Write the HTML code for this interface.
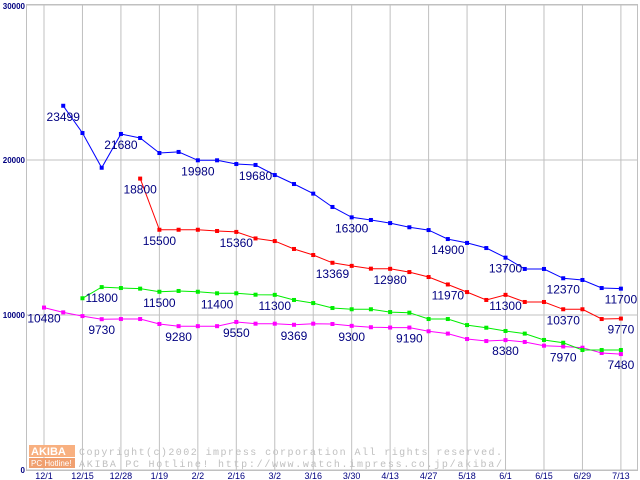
<!DOCTYPE html>
<html><head><meta charset="utf-8"><style>
html,body{margin:0;padding:0;background:#fff;}
svg{display:block;font-family:"Liberation Sans",sans-serif;}
</style></head><body>
<svg id="chart" width="640" height="480" viewBox="0 0 640 480">
<rect x="0" y="0" width="640" height="480" fill="#fff"/>
<g id="grid"></g>
<g id="wm">
<rect x="29" y="445" width="46" height="12" fill="#f8b080"/>
<text x="31" y="455" font-size="11" fill="#fff" font-weight="bold">AKIBA</text>
<rect x="29" y="458" width="46" height="10" fill="#f0a070"/>
<text x="31" y="466" font-size="8" fill="#fff">PC Hotline!</text>
<text x="79" y="455" font-size="10" fill="#c0c0c0" font-family="Liberation Mono,monospace" textLength="423">Copyright(c)2002 impress corporation All rights reserved.</text>
<text x="79" y="467" font-size="10" fill="#c0c0c0" font-family="Liberation Mono,monospace" textLength="423">AKIBA PC Hotline!  http://www.watch.impress.co.jp/akiba/</text>
</g>
<g id="series"></g>
<g id="labels"></g>
<g id="axes"></g>
</svg>
<script>
const xTickLabels = ["12/1","12/15","12/28","1/19","2/2","2/16","3/2","3/16","3/30","4/13","4/27","5/18","6/1","6/15","6/29","7/13"];
const yTicks = [0,10000,20000,30000];
const blueStart = 1;
const blueValues = [23499,21740,19500,21680,21420,20450,20520,19980,19980,19740,19680,19030,18450,17830,16970,16300,16130,15930,15660,15480,14900,14650,14320,13700,12970,12970,12370,12260,11740,11700];
const blueLabelIdx = [1,4,8,11,16,21,24,27,30];
const redStart = 5;
const redValues = [18800,15500,15500,15500,15420,15360,14940,14770,14260,13870,13369,13170,12990,12980,12770,12450,11970,11480,10970,11300,10840,10840,10370,10370,9740,9770];
const redLabelIdx = [5,6,10,15,18,21,24,27,30];
const greenStart = 2;
const greenValues = [11080,11800,11740,11700,11500,11550,11500,11400,11400,11310,11300,10970,10770,10450,10370,10370,10190,10150,9740,9740,9350,9180,8970,8800,8390,8210,7740,7740,7740];
const greenLabelIdx = [3,6,9,12];
const magentaStart = 0;
const magentaValues = [10480,10170,9930,9730,9740,9740,9420,9280,9280,9280,9550,9440,9440,9369,9440,9420,9300,9210,9190,9190,8950,8800,8450,8320,8380,8260,8020,7970,7890,7550,7480];
const magentaLabelIdx = [0,3,7,10,13,16,19,24,27,30];

const NS="http://www.w3.org/2000/svg";
const X0=44, XSTEP=19.23, Y0=470, YK=0.0155;
function xs(i){return X0+XSTEP*i;}
function ys(v){return Y0-v*YK;}
function mk(tag,attrs,parent){const e=document.createElementNS(NS,tag);for(const k in attrs)e.setAttribute(k,attrs[k]);parent.appendChild(e);return e;}
const grid=document.getElementById('grid'), axes=document.getElementById('axes'), ser=document.getElementById('series'), lab=document.getElementById('labels');
for(let k=0;k<xTickLabels.length;k++){
  const x=xs(2*k);
  const l=mk('line',{x1:x,x2:x,y1:4,y2:470,stroke:'#c0c0c0','stroke-width':1},grid);
  
  
  const t=mk('text',{x:x,y:479,'font-size':9,fill:'#000080','text-anchor':'middle'},axes);
  t.textContent=xTickLabels[k];
  
  
}
for(const v of yTicks){
  const y=ys(v);
  const l=mk('line',{x1:26,x2:638,y1:y,y2:y,stroke:'#c0c0c0','stroke-width':1},grid);
  
  
  const t=mk('text',{x:25,y:y+(v===30000?4:3),'font-size':8,'font-weight':'bold',fill:'#000080','text-anchor':'end'},axes);
  t.textContent=String(v);
  
  
}
const frame=mk('rect',{x:26.5,y:4.5,width:611,height:466,fill:'none',stroke:'#c0c0c0'},grid);



function drawSeries(start,vals,labelIdx,color,name){
  const pts=vals.map((v,j)=>[xs(start+j),ys(v)]);
  const pl=mk('polyline',{points:pts.map(p=>p[0].toFixed(1)+','+p[1].toFixed(1)).join(' '),fill:'none',stroke:color,'stroke-width':1},ser);
  
  
  pts.forEach(p=>{
    const r=mk('rect',{x:p[0]-2,y:p[1]-2,width:4,height:4,fill:color},ser);
    
    
  });
  labelIdx.forEach(i=>{
    const j=i-start; if(j<0||j>=vals.length)return;
    const t=mk('text',{x:xs(i),y:ys(vals[j])+15,'font-size':12,fill:'#000080','text-anchor':'middle'},lab);
    t.textContent=String(vals[j]);
    
    
  });
}
drawSeries(magentaStart,magentaValues,magentaLabelIdx,'#ff00ff','magenta-series');
drawSeries(greenStart,greenValues,greenLabelIdx,'#00ee00','green-series');
drawSeries(redStart,redValues,redLabelIdx,'#ff0000','red-series');
drawSeries(blueStart,blueValues,blueLabelIdx,'#0000ff','blue-series');
</script>
</body></html>
